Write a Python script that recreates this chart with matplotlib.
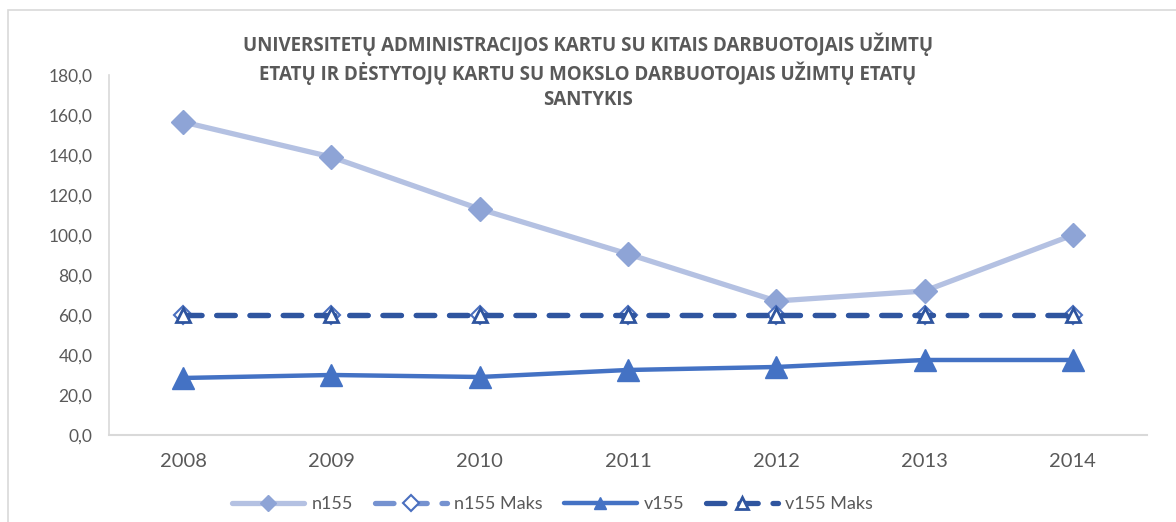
import matplotlib.pyplot as plt
from matplotlib.patches import Rectangle
from matplotlib.ticker import FuncFormatter

# duomenys
years = ['2008', '2009', '2010', '2011', '2012', '2013', '2014']
n155 = [156.5, 139.0, 113.0, 90.5, 67.0, 72.0, 100.0]
n155_maks = [60.0, 60.0, 60.0, 60.0, 60.0, 60.0, 60.0]
v155 = [28.5, 30.0, 29.0, 32.5, 34.0, 37.5, 37.5]
v155_maks = [60.0, 60.0, 60.0, 60.0, 60.0, 60.0, 60.0]

title = ('UNIVERSITETŲ ADMINISTRACIJOS KARTU SU KITAIS DARBUOTOJAIS UŽIMTŲ\n'
         'ETATŲ IR DĖSTYTOJŲ KARTU SU MOKSLO DARBUOTOJAIS UŽIMTŲ ETATŲ\n'
         'SANTYKIS')

plt.rcParams['font.family'] = ['Lato', 'DejaVu Sans']
grey = '#595959'

fig = plt.figure(figsize=(11.76, 5.22), dpi=100)
ax = fig.add_axes([0.0927, 0.1667, 0.8826, 0.6896])

# ramelis aplink diagramą
fig.patches.append(Rectangle((8 / 1176, -0.1), 1.2, 1.1 - 10 / 522, transform=fig.transFigure,
                             fill=False, edgecolor='#d9d9d9', linewidth=1.2))

x = range(len(years))
ax.plot(x, n155, color='#b4c1e2', linewidth=3.8, marker='D', markersize=12,
        markerfacecolor='#8ea4d6', markeredgecolor='#8ea4d6', label='n155', solid_capstyle='round')
ax.plot(x, n155_maks, color='#7592d0', linewidth=3.8, linestyle=(0, (3.5, 2.8)), dash_capstyle='round',
        marker='D', markersize=9, markerfacecolor='white', markeredgecolor='#4a6fbf', markeredgewidth=1.5,
        label='n155 Maks')
ax.plot(x, v155, color='#4472c4', linewidth=3.2, marker='^', markersize=16,
        markerfacecolor='#4472c4', markeredgecolor='#4472c4', label='v155', solid_capstyle='round')
ax.plot(x, v155_maks, color='#2f559f', linewidth=3.8, linestyle=(0, (3.5, 2.8)), dash_capstyle='round',
        marker='^', markersize=10, markerfacecolor='white', markeredgecolor='#2f559f', markeredgewidth=2,
        label='v155 Maks')

ax.set_xlim(-0.5, len(years) - 0.5)
ax.set_ylim(0, 180)
ax.set_yticks(range(0, 181, 20))
ax.yaxis.set_major_formatter(FuncFormatter(lambda v, p: f'{v:.1f}'.replace('.', ',')))
ax.set_xticks(list(x))
ax.set_xticklabels(years)

for s in ['top', 'right']:
    ax.spines[s].set_visible(False)
ax.spines['left'].set_color('#d9d9d9')
ax.spines['bottom'].set_color('#d9d9d9')
ax.spines['left'].set_linewidth(1.2)
ax.spines['bottom'].set_linewidth(1.5)
ax.tick_params(axis='both', length=0, colors=grey)
ax.tick_params(axis='y', labelsize=12.5, pad=12)
ax.tick_params(axis='x', labelsize=14.5, pad=13)

fig.text(0.5, 0.937, title, ha='center', va='top', fontsize=13.5, fontweight='bold',
         color=grey, linespacing=1.3, family=['Open Sans', 'DejaVu Sans'])

leg = fig.legend(loc='lower center', bbox_to_anchor=(0.47, -0.012), ncol=4, frameon=False,
                 fontsize=13, handlelength=4, columnspacing=1.2, handletextpad=0.4, labelcolor=grey)
for h in leg.legend_handles:
    h.set_markersize(8)

fig.savefig('out.png', dpi=100)
